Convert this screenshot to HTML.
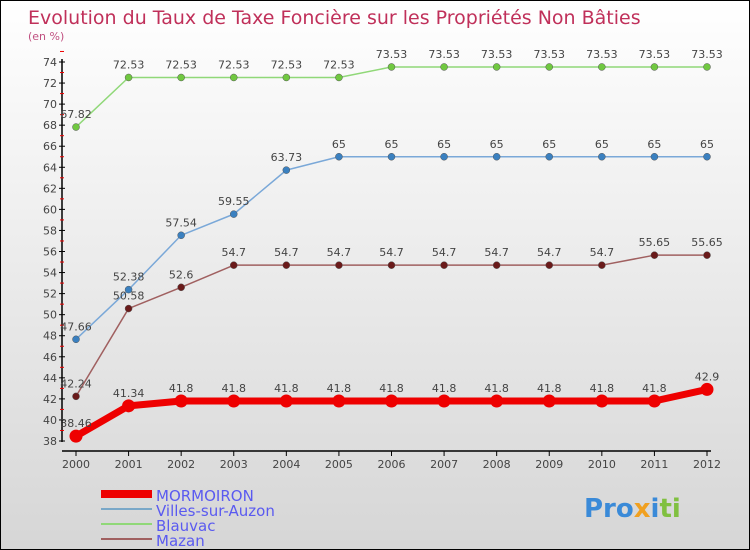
<!DOCTYPE html>
<html><head><meta charset="utf-8"><style>
body{margin:0}
#c{width:750px;height:550px;position:relative;overflow:hidden;box-sizing:border-box;border:1px solid #000;background:linear-gradient(#fff,#d6d6d6);font-family:"DejaVu Sans","Liberation Sans",sans-serif}
text{font-family:"DejaVu Sans","Liberation Sans",sans-serif}
</style></head><body>
<div id="c">
<svg id="s" width="750" height="550">
<text x="27" y="23" font-size="19" fill="#c0305a">Evolution du Taux de Taxe Foncière sur les Propriétés Non Bâties</text>
<text x="27" y="39" font-size="11" fill="#c05080">(en %)</text>
<g>
<rect x="100" y="489" width="51" height="8" fill="#e00"/>
<text x="155" y="500" font-size="15" fill="#5a5af0">MORMOIRON</text>
<rect x="100" y="507" width="51" height="2" fill="#7aa8c8"/>
<text x="155" y="515" font-size="15" fill="#5a5af0">Villes-sur-Auzon</text>
<rect x="100" y="522" width="51" height="2" fill="#90d878"/>
<text x="155" y="530" font-size="15" fill="#5a5af0">Blauvac</text>
<rect x="100" y="537" width="51" height="2" fill="#a06060"/>
<text x="155" y="545" font-size="15" fill="#5a5af0">Mazan</text>
</g>
<text x="583" y="516" font-size="26" font-weight="bold"><tspan fill="#3a8ad8">Pro</tspan><tspan fill="#f0a020">x</tspan><tspan fill="#3a8ad8">i</tspan><tspan fill="#80c040">ti</tspan></text>
</svg>
</div>
<script>
const years=[2000,2001,2002,2003,2004,2005,2006,2007,2008,2009,2010,2011,2012];
const yTicks=[38,40,42,44,46,48,50,52,54,56,58,60,62,64,66,68,70,72,74];
const mormoiron=[38.46,41.34,41.8,41.8,41.8,41.8,41.8,41.8,41.8,41.8,41.8,41.8,42.9];
const villes=[47.66,52.38,57.54,59.55,63.73,65,65,65,65,65,65,65,65];
const blauvac=[67.82,72.53,72.53,72.53,72.53,72.53,73.53,73.53,73.53,73.53,73.53,73.53,73.53];
const mazan=[42.24,50.58,52.6,54.7,54.7,54.7,54.7,54.7,54.7,54.7,54.7,55.65,55.65];
const labelsMormoiron=["38.46","41.34","41.8","41.8","41.8","41.8","41.8","41.8","41.8","41.8","41.8","41.8","42.9"];
const labelsMazan=["42.24","50.58","52.6","54.7","54.7","54.7","54.7","54.7","54.7","54.7","54.7","55.65","55.65"];
const NS="http://www.w3.org/2000/svg";
const s=document.getElementById('s');
const x=i=>75+i*(706-75)/(years.length-1);
const y=v=>440-(v-38)*(440-61)/36;
function mk(t,a,p){const e=document.createElementNS(NS,t);for(const k in a)e.setAttribute(k,a[k]);(p||s).appendChild(e);return e;}
const ax=mk('g',{});


const yl=mk('line',{x1:61,y1:58,x2:61,y2:441,stroke:'#000','stroke-width':1.5},ax);


const xl=mk('line',{x1:61,y1:450,x2:710,y2:450,stroke:'#000','stroke-width':1.5},ax);


yTicks.forEach(v=>{
 mk('line',{x1:58,y1:y(v),x2:64,y2:y(v),stroke:'#000'},ax);
 mk('line',{x1:59,y1:y(v+1),x2:63,y2:y(v+1),stroke:'#e00'},ax);
 const t=mk('text',{x:56,y:y(v)+4,'text-anchor':'end','font-size':11,fill:'#444'},ax);
 t.textContent=v;
 
 
});
years.forEach((yr,i)=>{
 mk('line',{x1:x(i),y1:450,x2:x(i),y2:455,stroke:'#000'},ax);
 const t=mk('text',{x:x(i),y:467,'text-anchor':'middle','font-size':11,fill:'#444'},ax);
 t.textContent=yr;
 
 
});
function series(name,data,labels,color,dot,w,r){
 const g=mk('g',{});
 
 
 const p=mk('polyline',{points:data.map((v,i)=>x(i)+','+y(v)).join(' '),fill:'none',stroke:color,'stroke-width':w,'stroke-linejoin':'round'},g);
 
 
 data.forEach((v,i)=>{
  const c=mk('circle',{cx:x(i),cy:y(v),r:r,fill:dot,stroke:w>3?'none':'#555','stroke-width':0.5},g);
  
  
  const t=mk('text',{x:x(i),y:y(v)-9,'text-anchor':'middle','font-size':11,fill:'#444'},g);
  t.textContent=labels?labels[i]:String(v);
  
  
 });
}
series('blauvac',blauvac,null,'#90d878','#70c840',1.5,3.5);
series('villes',villes,null,'#7aa8d8','#3a80c0',1.5,3.5);
series('mazan',mazan,labelsMazan,'#a06060','#6a1a1a',1.5,3.5);
series('mormoiron',mormoiron,labelsMormoiron,'#e00','#e00',7,6.5);
</script>
</body></html>
